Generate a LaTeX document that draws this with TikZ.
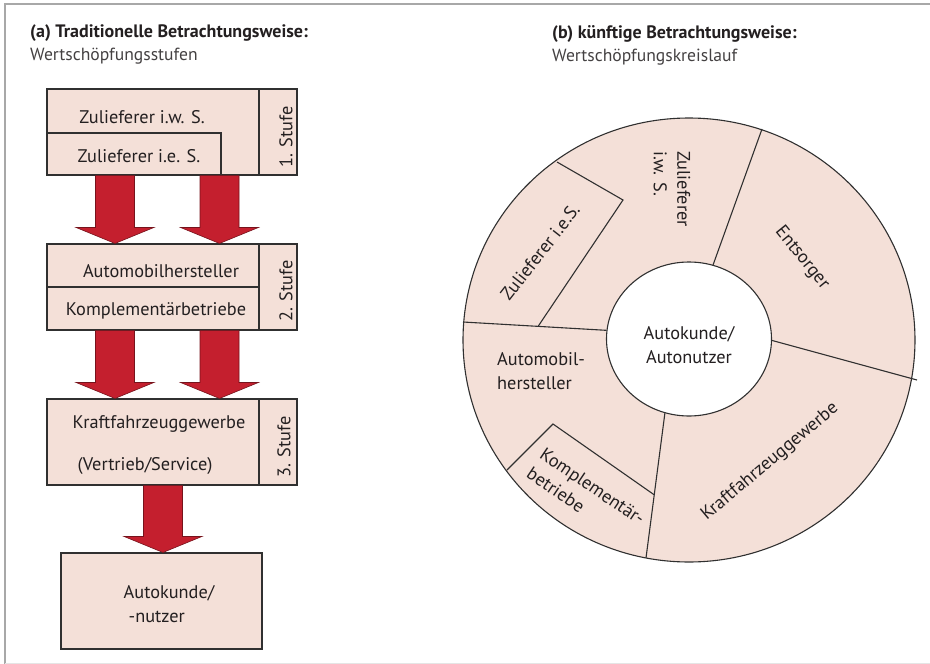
\documentclass[tikz,border=0pt]{standalone}
\usepackage{fontspec}
\setmainfont{PT Sans}
\usetikzlibrary{calc,shapes.geometric}
\definecolor{boxfill}{HTML}{F4E0D8}
\definecolor{arrowred}{HTML}{C41F2E}
\definecolor{lineclr}{HTML}{303030}
\definecolor{txtclr}{HTML}{231F20}
\definecolor{framegray}{HTML}{A8A8A8}
\newcommand{\fatarr}[3]{%
  \draw[fatarrow] let \p1=(#2.south -| #1), \p2=(#3.north -| #1) in
    (\x1-19.5pt,\y1) -- (\x1+19.5pt,\y1) -- (\x1+19.5pt,\y2+16pt) --
    (\x1+39pt,\y2+16pt) -- (\x1,\y2) -- (\x1-39pt,\y2+16pt) --
    (\x1-19.5pt,\y2+16pt) -- cycle;}
\tikzset{
  box/.style={draw=lineclr, fill=boxfill, line width=1.1pt, inner sep=0pt, rectangle},
  divline/.style={draw=lineclr, line width=1.1pt},
  fatarrow/.style={fill=arrowred, draw=arrowred!60!black, line width=0.6pt, line join=miter},
  txt/.style={text=txtclr, inner sep=0pt, font=\fontsize{18.3}{23.5}\selectfont},
  titletxt/.style={text=txtclr, inner sep=0pt, anchor=base west, font=\fontsize{18}{20}\selectfont\bfseries},
  subtxt/.style={text=txtclr!85, inner sep=0pt, anchor=base west, font=\fontsize{17.6}{20}\selectfont},
}
\begin{document}
\begin{tikzpicture}[x=1pt,y=-1pt]
\useasboundingbox (0,0) rectangle (930,664);
% frame
\draw[framegray, line width=2.5pt] (5,664) -- (5,4) -- (930,4);
\draw[black!10, line width=1pt] (5,663) -- (930,663);

% titles
\node[titletxt] (ta) at (30,37) {(a) Traditionelle Betrachtungsweise:};
\node[subtxt] (tb) at (30,60) {Wertschöpfungsstufen};
\node[titletxt] (tc) at (552,38) {(b) künftige Betrachtungsweise:};
\node[subtxt] (td) at (552,61) {Wertschöpfungskreislauf};

% left panel boxes
\node[box, minimum width=250pt, minimum height=86pt] (b1) at (172,132) {};
\node[box, minimum width=250pt, minimum height=86pt] (b2) at (172,287) {};
\node[box, minimum width=250pt, minimum height=86pt] (b3) at (172,442) {};
\node[box, minimum width=201pt, minimum height=96pt] (b4) at (161.5,601) {};

% internal division lines
\draw[divline] (259,89) -- (259,176);
\draw[divline] (47,133) -- (221,133) -- (221,175);
\draw[divline] (259,244) -- (259,331);
\draw[divline] (47,287) -- (259,287);
\draw[divline] (259,399) -- (259,486);

% arrows
\coordinate (xL) at (115,0);
\coordinate (xR) at (219.5,0);
\coordinate (xC) at (163,0);
\fatarr{xL}{b1}{b2}
\fatarr{xR}{b1}{b2}
\fatarr{xL}{b2}{b3}
\fatarr{xR}{b2}{b3}
\fatarr{xC}{b3}{b4}

% left texts
\node[txt] (t1) at (142,117) {Zulieferer i.w. S.};
\node[txt] (t2) at (139,156) {Zulieferer i.e. S.};
\node[txt, rotate=90] (s1) at (286,137) {1. Stufe};
\node[txt] (t3) at (161,271) {Automobilhersteller};
\node[txt] (t4) at (156,311) {Komplementärbetriebe};
\node[txt, rotate=90] (s2) at (286,291) {2. Stufe};
\node[txt] (t5) at (159,424) {Kraftfahrzeuggewerbe};
\node[txt] (t6) at (145,466) {(Vertrieb/Service)};
\node[txt, rotate=90] (s3) at (284,447) {3. Stufe};
\node[txt, align=left] (t7) at (169,604) {Autokunde/\\\hspace*{5pt}-nutzer};

% right panel: ring
\draw[draw=lineclr, fill=boxfill, line width=1.1pt] (689,340) ellipse [x radius=226pt, y radius=222pt];
\node[ellipse, draw=lineclr, fill=white, line width=1.1pt, minimum width=165pt, minimum height=154pt, inner sep=0pt] (kunde) at (689,339) {};
\node[txt, align=center] (kundetxt) at (689,345) {Autokunde/\\Autonutzer};

\draw[divline] (kunde.72) -- (762,129);
\draw[divline] (kunde.-1) -- (917,380);
\draw[divline] (kunde.-108) -- (646,558);
\draw[divline] (kunde.174) -- (463,322);
\draw[divline] (557,162) -- (623,200) -- (538,326.5);
\draw[divline] (507,470) -- (553,424) -- (654.5,495);

% ring texts
\node[txt, rotate=-90, align=left] (r1) at (672,189) {Zulieferer\\i.w. S.};
\node[txt, rotate=52] (r2) at (540,252) {Zulieferer i.e.S.};
\node[txt, rotate=-51] (r3) at (802,258) {Entsorger};
\node[txt, align=left, anchor=west] (r4) at (497,371) {Automobil-\\hersteller};
\node[txt, rotate=-34, align=left] (r5) at (586,496) {Komplementär-\\betriebe};
\node[txt, rotate=40] (r6) at (770,462) {Kraftfahrzeuggewerbe};
\end{tikzpicture}
\end{document}
